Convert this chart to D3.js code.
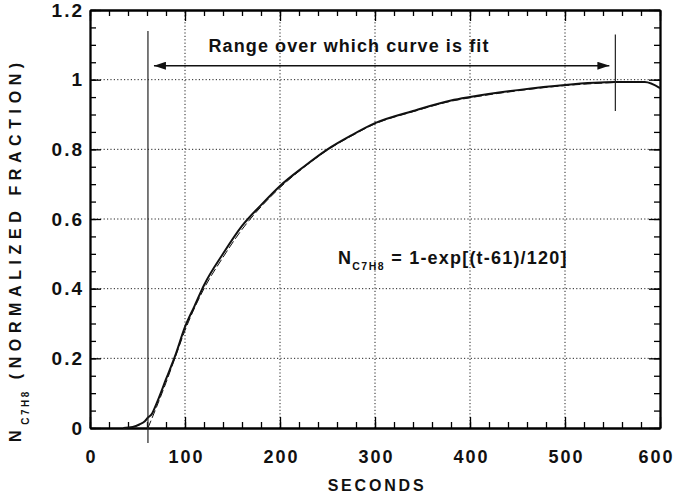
<!DOCTYPE html>
<html>
<head>
<meta charset="utf-8">
<script src="https://cdn.jsdelivr.net/npm/d3@7"></script>
<style>
  body { margin: 0; background: #fff; }
  text { font-family: 'Liberation Sans', Arial, sans-serif; fill: #111; }
</style>
</head>
<body>
<div id="chart"></div>
<script>
// measured toluene fraction (seconds, normalized)
const measT = [35, 45, 52, 58, 61, 65, 70, 80, 90, 100, 110, 120, 140, 160, 180, 200, 225, 250, 275, 300, 340, 380, 400, 450, 500, 553, 584, 600]
const measV = [0, 0.003, 0.01, 0.02, 0.03, 0.04, 0.07, 0.14, 0.21, 0.29, 0.35, 0.41, 0.50, 0.58, 0.64, 0.695, 0.75, 0.80, 0.84, 0.875, 0.91, 0.94, 0.95, 0.97, 0.985, 0.993, 0.993, 0.976]

// fitted curve (it hides under the data past ~200 s)
const fitT = [61, 70, 80, 90, 100, 120, 140, 160, 180, 200, 225, 250, 275, 300, 340, 380, 400, 450, 500, 553]
const fitV = [0, 0.06, 0.13, 0.205, 0.28, 0.40, 0.49, 0.57, 0.635, 0.69, 0.748, 0.798, 0.838, 0.873, 0.908, 0.938, 0.948, 0.968, 0.983, 0.992]

const xTicks = [0, 100, 200, 300, 400, 500, 600]
const yTicks = [0, 0.2, 0.4, 0.6, 0.8, 1, 1.2]
const yTickLabels = ['0', '0.2', '0.4', '0.6', '0.8', '1', '1.2']

const fitStart = 61
const fitEnd = 553

const width = 677
const height = 498
const margin = { left: 90, right: 17, top: 10, bottom: 70 }

const svg = d3.select('#chart').append('svg')
  .attr('width', width)
  .attr('height', height)

const x = d3.scaleLinear().domain([0, 600]).range([margin.left, width - margin.right])
const y = d3.scaleLinear().domain([0, 1.2]).range([height - margin.bottom, margin.top])

const minorX = d3.range(0, 601, 20)
const minorY = d3.range(0, 1.2001, 0.05)

// dotted grid
svg.append('g')
  .selectAll('line')
  .data(xTicks.slice(1, -1))
  .join('line')
  .attr('x1', d => x(d)).attr('x2', d => x(d))
  .attr('y1', y(0)).attr('y2', y(1.2))
  .attr('stroke', '#222').attr('stroke-width', 1).attr('stroke-dasharray', '1.2,2.2')

svg.append('g')
  .selectAll('line')
  .data(yTicks.slice(1, -1))
  .join('line')
  .attr('x1', x(0)).attr('x2', x(600))
  .attr('y1', d => y(d)).attr('y2', d => y(d))
  .attr('stroke', '#222').attr('stroke-width', 1).attr('stroke-dasharray', '1.2,2.2')

// axes, ticks pointing inward on all four sides
const ax = (g, axis) => g.call(axis).call(s => s.select('.domain').attr('stroke-width', 1.8)).call(s => s.selectAll('.tick line').attr('stroke-width', 1.3))

svg.append('g').attr('transform', `translate(0,${y(0)})`)
  .call(g => ax(g, d3.axisBottom(x).tickValues(minorX).tickSize(-6).tickSizeOuter(0).tickFormat('')))
svg.append('g').attr('transform', `translate(0,${y(0)})`)
  .call(g => ax(g, d3.axisBottom(x).tickValues(xTicks).tickSize(-11).tickSizeOuter(0).tickPadding(22)))
  .call(g => g.selectAll('text').attr('font-size', 18).attr('font-weight', 'bold').attr('letter-spacing', 2)
    .attr('dx', d => d === 600 ? -4 : 1).attr('fill', '#111'))

svg.append('g').attr('transform', `translate(0,${y(1.2)})`)
  .call(g => ax(g, d3.axisTop(x).tickValues(minorX).tickSize(-6).tickSizeOuter(0).tickFormat('')))
svg.append('g').attr('transform', `translate(0,${y(1.2)})`)
  .call(g => ax(g, d3.axisTop(x).tickValues(xTicks).tickSize(-11).tickSizeOuter(0).tickFormat('')))

svg.append('g').attr('transform', `translate(${x(0)},0)`)
  .call(g => ax(g, d3.axisLeft(y).tickValues(minorY).tickSize(-6).tickSizeOuter(0).tickFormat('')))
svg.append('g').attr('transform', `translate(${x(0)},0)`)
  .call(g => ax(g, d3.axisLeft(y).tickValues(yTicks).tickSize(-11).tickSizeOuter(0).tickPadding(6)
    .tickFormat((d, i) => yTickLabels[i])))
  .call(g => g.selectAll('text').attr('font-size', 19).attr('font-weight', 'bold').attr('letter-spacing', 2).attr('fill', '#111'))

svg.append('g').attr('transform', `translate(${x(600)},0)`)
  .call(g => ax(g, d3.axisRight(y).tickValues(minorY).tickSize(-6).tickSizeOuter(0).tickFormat('')))
svg.append('g').attr('transform', `translate(${x(600)},0)`)
  .call(g => ax(g, d3.axisRight(y).tickValues(yTicks).tickSize(-11).tickSizeOuter(0).tickFormat('')))

// curves
const line = d3.line().x(d => x(d[0])).y(d => y(d[1])).curve(d3.curveMonotoneX)

svg.append('path')
  .datum(fitT.map((t, i) => [t, fitV[i]]))
  .attr('d', line)
  .attr('fill', 'none').attr('stroke', '#111').attr('stroke-width', 1).attr('stroke-dasharray', '8,3')

svg.append('path')
  .datum(measT.map((t, i) => [t, measV[i]]))
  .attr('d', line)
  .attr('fill', 'none').attr('stroke', '#111').attr('stroke-width', 2)

// range markers
svg.append('line')
  .attr('x1', x(fitStart)).attr('x2', x(fitStart))
  .attr('y1', y(1.14)).attr('y2', y(0) + 15)
  .attr('stroke', '#222').attr('stroke-width', 1.2)
svg.append('line')
  .attr('x1', x(fitEnd)).attr('x2', x(fitEnd))
  .attr('y1', y(1.13)).attr('y2', y(0.91))
  .attr('stroke', '#222').attr('stroke-width', 1.2)

const defs = svg.append('defs')
defs.append('marker')
  .attr('id', 'arrow')
  .attr('viewBox', '0 0 12 8')
  .attr('refX', 12).attr('refY', 4)
  .attr('markerWidth', 12).attr('markerHeight', 8)
  .attr('markerUnits', 'userSpaceOnUse')
  .attr('orient', 'auto-start-reverse')
  .append('path').attr('d', 'M0,0L12,4L0,8Z').attr('fill', '#111')

svg.append('line')
  .attr('x1', x(fitStart) + 6).attr('x2', x(fitEnd) - 6)
  .attr('y1', y(1.04)).attr('y2', y(1.04))
  .attr('stroke', '#111').attr('stroke-width', 1.5)
  .attr('marker-start', 'url(#arrow)').attr('marker-end', 'url(#arrow)')

svg.append('text')
  .attr('x', 349).attr('y', 52)
  .attr('text-anchor', 'middle')
  .attr('font-size', 18).attr('font-weight', 'bold').attr('letter-spacing', 1.1)
  .text('Range over which curve is fit')

// fit equation
const eq = svg.append('text')
  .attr('x', 338).attr('y', 264)
  .attr('font-size', 18).attr('font-weight', 'bold').attr('letter-spacing', 1.2)
eq.append('tspan').text('N')
eq.append('tspan').attr('font-size', 10.5).attr('dy', 6).attr('letter-spacing', 1.5).text('C7H8')
eq.append('tspan').attr('dy', -6).text(' = 1-exp[(t-61)/120]')

// axis titles
svg.append('text')
  .attr('x', (x(0) + x(600)) / 2 + 2).attr('y', 491)
  .attr('text-anchor', 'middle')
  .attr('font-size', 16).attr('font-weight', 'bold').attr('letter-spacing', 2.8)
  .text('SECONDS')

const yt = svg.append('text')
  .attr('transform', 'translate(21,442) rotate(-90)')
  .attr('font-size', 16).attr('font-weight', 'bold').attr('letter-spacing', 5.6)
yt.append('tspan').text('N')
yt.append('tspan').attr('font-size', 10).attr('dy', 8).attr('letter-spacing', 2.5).text('C7H8')
yt.append('tspan').attr('dy', -8).text(' (NORMALIZED FRACTION)')
</script>
</body>
</html>
